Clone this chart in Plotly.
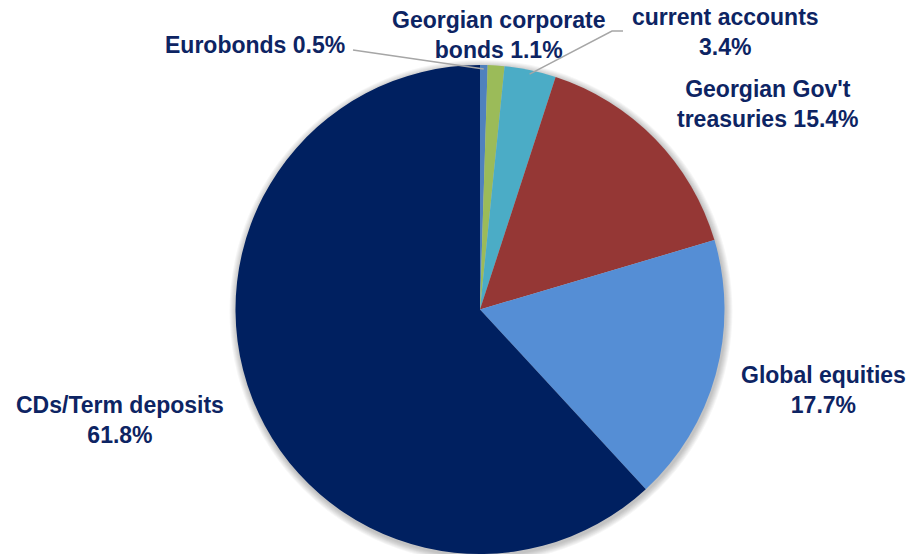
import math
import plotly.graph_objects as go

# Portfolio allocation, clockwise from 12 o'clock
categories = ["Eurobonds", "Georgian corporate bonds", "current accounts",
              "Georgian Gov't treasuries", "Global equities", "CDs/Term deposits"]
shares = [0.5, 1.1, 3.4, 15.4, 17.7, 61.8]
colors = ["#4F81BD", "#9BBB59", "#4BACC6", "#953735", "#558ED5", "#002060"]

W, H = 912, 554
CX, CY, R = 480, 309.5, 244.5          # pie centre / radius in pixels
TEXT = "#0D2463"
FONT = "Liberation Sans, Arial, sans-serif"

fig = go.Figure(go.Pie(
    labels=categories, values=shares, sort=False, direction="clockwise",
    rotation=0, marker=dict(colors=colors, line=dict(width=0)),
    textinfo="none", hoverinfo="label+percent", showlegend=False,
    domain=dict(x=[(CX - R) / W, (CX + R) / W], y=[0, 2 * R / H]),
))

def px(x, y):
    return x / W, 1 - y / H

# soft drop shadow behind the pie
for k in range(7, 0, -1):
    rr = R + k
    x0, y0 = px(CX - rr + 1, CY - rr + 2)
    x1, y1 = px(CX + rr + 1, CY + rr + 2)
    fig.add_shape(type="circle", xref="paper", yref="paper", layer="below",
                  x0=x0, y0=y1, x1=x1, y1=y0, line=dict(width=0),
                  fillcolor="rgba(0,0,0,0.035)")

# label text built from the values; placement in pixels (centre x, centre y)
label_lines = {
    0: ["{n} {v}%"],
    1: ["Georgian corporate", "bonds {v}%"],
    2: ["current accounts", "{v}%"],
    3: ["Georgian Gov't", "treasuries {v}%"],
    4: ["Global equities", "{v}%"],
    5: ["CDs/Term deposits", "{v}%"],
}
label_pos = {0: (255, 45), 1: (498, 35), 2: (725, 32),
             3: (768, 104), 4: (823, 390), 5: (120, 420)}

for i, (name, v) in enumerate(zip(categories, shares)):
    txt = "<br>".join(s.format(n=name, v=v) for s in label_lines[i])
    x, y = px(*label_pos[i])
    fig.add_annotation(x=x, y=y, xref="paper", yref="paper", text=f"<b>{txt}</b>",
                       showarrow=False, align="center", xanchor="center",
                       yanchor="middle",
                       font=dict(family=FONT, size=23, color=TEXT))

# leader lines from the slice mid-angle to the label
total = sum(shares)
def mid_point(i, r):
    a = (sum(shares[:i]) + shares[i] / 2) / total * 2 * math.pi
    return CX + r * math.sin(a), CY - r * math.cos(a)

leaders = {0: [(353, 50)], 2: [(612, 31), (623, 31)]}
for i, pts in leaders.items():
    sx, sy = mid_point(i, R - 4)
    path_pts = [(sx, sy)] + pts
    d = "M " + " L ".join(f"{px(x, y)[0]},{px(x, y)[1]}" for x, y in path_pts)
    fig.add_shape(type="path", path=d, xref="paper", yref="paper",
                  line=dict(color="#A6A6A6", width=1.5))

fig.update_layout(width=W, height=H, margin=dict(l=0, r=0, t=0, b=0),
                  paper_bgcolor="white", plot_bgcolor="white")
fig.write_html("out.html")
